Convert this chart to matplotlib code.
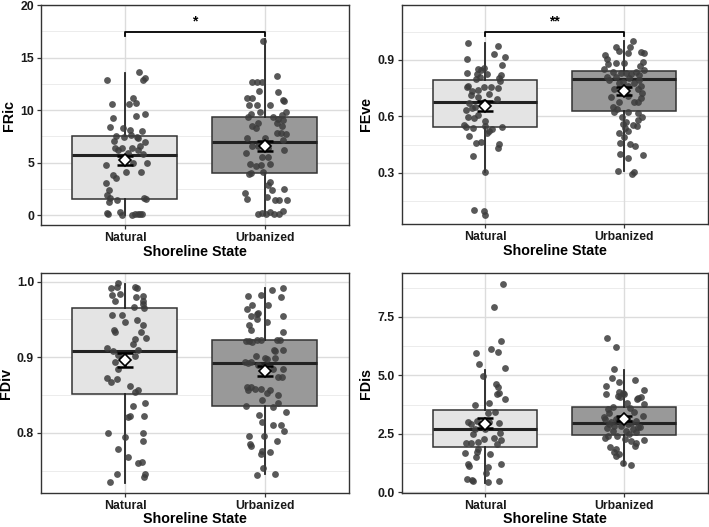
import numpy as np
import matplotlib.pyplot as plt

plt.rcParams['font.family'] = ['Liberation Sans', 'DejaVu Sans']

groups = ['Natural', 'Urbanized']
box_colors = ['#e4e4e4', '#999999']

# ---------------- FRic ----------------
fric_nat_y = [12.86, 13.59, 13.08, 12.86, 11.17, 10.70, 10.54, 10.54, 9.24, 9.43, 9.59, 8.35, 8.25, 8.13,
              8.00, 7.56, 7.40, 7.62, 7.46, 7.33, 7.02, 6.95, 6.60, 6.35, 6.35, 6.38, 6.19, 6.19, 5.94,
              5.81, 4.92, 4.79, 4.98, 4.06, 4.06, 3.81, 3.56, 3.08, 2.38, 1.90, 1.59, 1.40, 1.24, 1.59,
              1.49, 0.06, 0.22, 0.25, 0.00, 0.10, 0.06, 0.10, 0.06, 0.03]
fric_nat_dx = [-0.13, 0.10, 0.14, 0.13, 0.055, 0.077, 0.03, -0.094, -0.086, 0.077, 0.146, -0.108, -0.012,
               0.034, 0.12, -0.067, -0.005, 0.04, 0.084, 0.096, -0.077, 0.144, 0.108, -0.024, 0.048,
               -0.072, -0.048, 0.096, 0.024, 0.132, 0.156, -0.134, 0.06, 0.007, 0.115, -0.082, -0.062,
               -0.139, -0.115, -0.125, -0.108, -0.055, -0.113, 0.134, 0.149, -0.12, -0.125, -0.036,
               0.048, 0.072, 0.091, 0.108, 0.12, -0.02]
fric_urb_y = [16.57, 13.24, 12.70, 12.70, 12.70, 11.84, 11.71, 11.14, 11.14, 10.95, 10.83, 10.44, 10.51,
              10.48, 9.84, 9.62, 9.37, 9.78, 9.52, 9.30, 9.11, 9.05, 8.73, 8.48, 8.73, 8.48, 8.25, 7.84,
              7.78, 7.71, 7.30, 7.30, 7.14, 6.60, 6.57, 6.41, 6.19, 5.94, 5.56, 5.56, 4.86, 4.70, 4.76,
              4.86, 4.03, 4.06, 3.90, 3.17, 2.86, 2.38, 2.48, 2.06, 1.52, 1.68, 1.43, 1.43, 1.43, 0.06,
              0.16, 0.06, 0.32, 0.06, 0.06, 0.38]
fric_urb_dx = [-0.012, 0.084, -0.096, -0.06, -0.024, -0.041, 0.096, -0.125, -0.096, 0.127, 0.137, -0.115,
               -0.055, 0.036, -0.036, -0.10, -0.12, 0.149, 0.12, 0.055, 0.096, 0.132, -0.053, -0.096,
               0.084, 0.12, -0.065, 0.084, 0.115, 0.149, -0.127, 0.0, 0.132, -0.091, -0.048, 0.024,
               0.139, -0.137, -0.024, 0.019, -0.108, -0.065, -0.03, 0.036, -0.10, -0.012, -0.115,
               0.036, 0.024, 0.048, 0.134, -0.144, -0.125, 0.012, 0.072, 0.10, 0.156, -0.048, -0.024,
               0.005, 0.036, 0.067, 0.10, 0.132]

# ---------------- FEve ----------------
feve_nat_y = [0.988, 0.976, 0.932, 0.914, 0.904, 0.873, 0.852, 0.847, 0.856, 0.826, 0.829, 0.826, 0.820,
              0.803, 0.790, 0.797, 0.808, 0.762, 0.758, 0.755, 0.750, 0.755, 0.735, 0.741, 0.718, 0.714,
              0.705, 0.691, 0.679, 0.670, 0.652, 0.635, 0.643, 0.608, 0.596, 0.590, 0.578, 0.555, 0.542,
              0.541, 0.546, 0.550, 0.523, 0.532, 0.514, 0.496, 0.461, 0.465, 0.454, 0.431, 0.390, 0.305,
              0.104, 0.098, 0.077]
feve_nat_dx = [-0.127, 0.091, 0.067, 0.139, -0.13, 0.12, -0.048, -0.029, -0.012, -0.058, -0.132, 0.014,
               0.115, 0.096, 0.103, -0.067, -0.04, -0.12, -0.005, 0.041, 0.091, -0.132, -0.096, -0.048,
               0.024, -0.10, -0.048, 0.084, -0.012, -0.113, -0.072, -0.139, -0.096, -0.053, -0.12,
               -0.077, 0.0, -0.149, -0.139, -0.084, 0.12, 0.0, 0.024, 0.048, 0.012, -0.115, -0.065,
               -0.031, 0.096, 0.091, -0.084, 0.0, -0.082, -0.005, 0.002]
feve_urb_y = [0.999, 0.971, 0.971, 0.950, 0.935, 0.944, 0.939, 0.927, 0.904, 0.882, 0.879, 0.882, 0.891,
              0.868, 0.847, 0.850, 0.838, 0.833, 0.829, 0.826, 0.838, 0.820, 0.808, 0.808, 0.803, 0.794,
              0.794, 0.785, 0.776, 0.762, 0.776, 0.762, 0.744, 0.744, 0.723, 0.705, 0.709, 0.696, 0.679,
              0.679, 0.652, 0.675, 0.638, 0.626, 0.626, 0.617, 0.599, 0.599, 0.581, 0.573, 0.560, 0.555,
              0.550, 0.537, 0.523, 0.514, 0.489, 0.458, 0.454, 0.443, 0.401, 0.396, 0.378, 0.312, 0.293,
              0.303]
feve_urb_dx = [0.06, 0.043, -0.06, -0.036, 0.024, 0.12, 0.139, -0.139, -0.125, -0.06, -0.12, 0.0, 0.132,
               0.115, 0.139, -0.144, -0.084, -0.024, 0.012, 0.048, 0.084, 0.108, -0.125, -0.06, 0.036,
               0.108, -0.108, -0.012, 0.072, 0.12, -0.036, 0.024, -0.072, 0.096, 0.125, -0.096, 0.024,
               0.12, 0.096, -0.036, -0.084, 0.072, -0.053, -0.072, 0.024, 0.096, 0.125, -0.019, 0.096,
               0.012, -0.012, 0.06, 0.091, 0.005, 0.024, -0.036, 0.0, -0.029, 0.041, 0.077, -0.029,
               0.132, 0.024, -0.048, 0.055, 0.072]

# ---------------- FDiv ----------------
fdiv_nat_y = [0.998, 0.993, 0.991, 0.993, 0.991, 0.984, 0.982, 0.980, 0.981, 0.974, 0.974, 0.965, 0.971,
              0.966, 0.956, 0.956, 0.949, 0.946, 0.943, 0.936, 0.934, 0.934, 0.925, 0.924, 0.917, 0.912,
              0.908, 0.910, 0.903, 0.901, 0.899, 0.893, 0.884, 0.873, 0.867, 0.871, 0.862, 0.857, 0.854,
              0.836, 0.839, 0.822, 0.821, 0.822, 0.800, 0.800, 0.789, 0.795, 0.779, 0.768, 0.760, 0.761,
              0.745, 0.745, 0.741, 0.735]
fdiv_nat_dx = [-0.048, -0.06, -0.10, 0.072, 0.084, -0.036, -0.091, 0.077, 0.132, -0.072, 0.127, 0.139,
               0.132, 0.067, -0.096, -0.024, 0.084, 0.0, 0.132, -0.077, -0.072, 0.115, 0.149, 0.072,
               0.055, -0.125, -0.084, 0.096, -0.048, 0.072, -0.024, -0.072, -0.053, -0.125, -0.10,
               -0.055, 0.036, 0.096, 0.072, 0.06, 0.144, 0.036, 0.024, 0.137, -0.12, 0.132, 0.127, 0.0,
               -0.048, 0.024, 0.096, 0.125, -0.055, 0.144, 0.139, -0.108]
fdiv_urb_y = [0.989, 0.992, 0.981, 0.982, 0.979, 0.969, 0.969, 0.964, 0.957, 0.958, 0.955, 0.955, 0.950,
              0.946, 0.943, 0.936, 0.934, 0.923, 0.922, 0.920, 0.923, 0.923, 0.923, 0.921, 0.910, 0.909,
              0.908, 0.901, 0.899, 0.899, 0.893, 0.892, 0.893, 0.890, 0.897, 0.884, 0.885, 0.874, 0.874,
              0.861, 0.857, 0.860, 0.858, 0.858, 0.857, 0.853, 0.850, 0.844, 0.836, 0.840, 0.834, 0.828,
              0.824, 0.814, 0.810, 0.810, 0.803, 0.796, 0.796, 0.789, 0.785, 0.783, 0.776, 0.775, 0.772,
              0.754, 0.744, 0.746]
fdiv_urb_dx = [0.048, 0.132, -0.12, -0.031, 0.115, -0.096, 0.024, -0.125, -0.055, -0.048, -0.10, 0.132,
               -0.06, 0.012, -0.115, -0.10, 0.132, -0.06, -0.115, -0.096, -0.029, 0.084, 0.108, -0.132,
               0.067, 0.132, 0.072, -0.065, 0.0, 0.072, -0.144, -0.12, -0.10, -0.048, 0.012, 0.06,
               0.132, 0.096, 0.125, -0.125, -0.12, -0.10, -0.072, -0.029, 0.036, 0.012, 0.091, -0.024,
               -0.139, 0.096, 0.06, 0.151, -0.043, -0.024, 0.06, 0.115, 0.139, -0.115, -0.005, 0.084,
               -0.108, -0.10, -0.024, 0.036, -0.029, -0.012, -0.055, 0.072]

# ---------------- FDis ----------------
fdis_nat_y = [8.92, 7.91, 6.46, 5.97, 6.11, 6.00, 5.47, 5.33, 4.97, 4.62, 4.50, 4.26, 4.19, 3.98, 3.72,
              3.84, 3.41, 3.44, 3.01, 2.94, 3.05, 3.01, 2.98, 2.91, 2.70, 2.49, 2.53, 2.70, 2.34, 2.27,
              2.16, 2.10, 2.10, 2.06, 2.24, 1.85, 1.73, 1.49, 1.63, 1.66, 1.07, 0.82, 1.21, 1.14, 1.21,
              0.57, 0.47, 0.54, 0.45, 0.48]
fdis_nat_dx = [0.127, 0.06, 0.115, -0.067, 0.041, 0.091, -0.043, 0.144, -0.017, 0.079, 0.091, 0.096,
               0.084, 0.144, -0.072, 0.029, 0.019, 0.072, -0.125, -0.10, -0.06, 0.024, 0.096, -0.029,
               -0.072, -0.084, 0.108, 0.0, 0.06, -0.012, -0.053, -0.139, -0.10, 0.084, 0.115, -0.048,
               -0.06, -0.065, 0.036, -0.144, 0.019, 0.007, -0.12, -0.115, 0.115, -0.132, -0.089,
               -0.096, 0.019, 0.101]
fdis_urb_y = [6.61, 6.22, 5.26, 4.87, 4.73, 4.80, 4.55, 4.36, 4.19, 4.29, 4.26, 4.19, 4.08, 4.12, 4.02,
              4.08, 3.98, 3.81, 3.76, 3.66, 3.55, 3.62, 3.41, 3.44, 3.27, 3.20, 3.12, 3.12, 3.05, 2.95,
              2.91, 2.84, 2.84, 2.81, 2.73, 2.63, 2.63, 2.70, 2.56, 2.34, 2.41, 2.27, 2.24, 2.20, 2.09,
              1.99, 1.92, 1.85, 1.73, 1.63, 1.56, 1.25, 1.18, 3.00, 2.90, 2.80, 3.10, 2.50, 2.40]
fdis_urb_dx = [-0.127, -0.060, -0.072, -0.089, -0.036, 0.079, -0.132, 0.144, -0.130, -0.041, -0.012,
               0.0, -0.029, -0.048, 0.101, 0.120, 0.091, 0.017, 0.139, -0.084, -0.120, 0.041, -0.108,
               0.072, 0.132, -0.144, -0.139, -0.060, 0.084, 0.048, -0.108, -0.072, -0.024, 0.115,
               -0.127, -0.084, 0.012, 0.060, 0.084, -0.139, -0.055, 0.005, 0.144, 0.048, 0.084, 0.077,
               -0.103, -0.060, -0.072, -0.036, -0.060, -0.012, 0.048, -0.096, 0.024, 0.096, -0.048,
               0.036, -0.120]

# box statistics (q1, median, q3, whisker low, whisker high) and mean +/- SE
panels = [
    dict(name='FRic', nat=(fric_nat_dx, fric_nat_y), urb=(fric_urb_dx, fric_urb_y),
         q1=[1.52, 4.03], med=[5.68, 6.98], q3=[7.56, 9.30], wlo=[0.0, 0.0], whi=[13.56, 16.73],
         mean=[5.20, 6.60], se_lo=[4.76, 6.13], se_hi=[5.64, 7.07],
         ylim=(-0.95, 20.0), ticks=[0, 5, 10, 15, 20], labels=['0', '5', '10', '15', '20'],
         minor=[2.5, 7.5, 12.5, 17.5], sig='*', sig_y=17.4, sig_drop=0.35, star_y=17.75),
    dict(name='FEve', nat=(feve_nat_dx, feve_nat_y), urb=(feve_urb_dx, feve_urb_y),
         q1=[0.544, 0.629], med=[0.675, 0.797], q3=[0.794, 0.843], wlo=[0.305, 0.312], whi=[0.988, 0.999],
         mean=[0.656, 0.735], se_lo=[0.631, 0.714], se_hi=[0.681, 0.756],
         ylim=(0.029, 1.192), ticks=[0.3, 0.6, 0.9], labels=['0.3', '0.6', '0.9'],
         minor=[0.15, 0.45, 0.75, 1.05], sig='**', sig_y=1.047, sig_drop=0.02, star_y=1.066),
    dict(name='FDiv', nat=(fdiv_nat_dx, fdiv_nat_y), urb=(fdiv_urb_dx, fdiv_urb_y),
         q1=[0.851, 0.835], med=[0.908, 0.892], q3=[0.9645, 0.923], wlo=[0.733, 0.745], whi=[0.9965, 0.991],
         mean=[0.8965, 0.882], se_lo=[0.887, 0.875], se_hi=[0.906, 0.889],
         ylim=(0.72, 1.011), ticks=[0.8, 0.9, 1.0], labels=['0.8', '0.9', '1.0'],
         minor=[0.75, 0.85, 0.95], sig=None),
    dict(name='FDis', nat=(fdis_nat_dx, fdis_nat_y), urb=(fdis_urb_dx, fdis_urb_y),
         q1=[1.92, 2.45], med=[2.72, 2.97], q3=[3.51, 3.66], wlo=[0.40, 1.17], whi=[5.25, 5.22],
         mean=[2.94, 3.14], se_lo=[2.73, 3.03], se_hi=[3.19, 3.27],
         ylim=(-0.03, 9.37), ticks=[0, 2.5, 5, 7.5], labels=['0.0', '2.5', '5.0', '7.5'],
         minor=[1.25, 3.75, 6.25, 8.75], sig=None),
]

fig = plt.figure(figsize=(7.09, 5.27), dpi=100)
rects = [[0.0578, 0.573, 0.4344, 0.4175], [0.5666, 0.575, 0.4316, 0.4156],
         [0.0578, 0.064, 0.4344, 0.4174], [0.5666, 0.0646, 0.4316, 0.4168]]

for n, (rect, p) in enumerate(zip(rects, panels)):
    ax = fig.add_axes(rect)
    ax.set_xlim(0.4, 2.6)
    ax.set_ylim(*p['ylim'])

    # grid, theme_bw style
    for t in p['ticks']:
        ax.axhline(t, color='#dcdcdc', lw=1.0, zorder=0)
    for t in p['minor']:
        ax.axhline(t, color='#ececec', lw=0.7, zorder=0)
    for x in [1, 2]:
        ax.axvline(x, color='#dcdcdc', lw=1.0, zorder=0)

    stats = []
    for i in range(2):
        stats.append(dict(med=p['med'][i], q1=p['q1'][i], q3=p['q3'][i],
                          whislo=p['wlo'][i], whishi=p['whi'][i], fliers=[]))
    bp = ax.bxp(stats, positions=[1, 2], widths=0.75, patch_artist=True, showfliers=False,
                boxprops=dict(edgecolor='#333333', linewidth=1.1),
                medianprops=dict(color='#222222', linewidth=2.2),
                whiskerprops=dict(color='#222222', linewidth=1.3),
                capprops=dict(linewidth=0), manage_ticks=False)
    for patch, c in zip(bp['boxes'], box_colors):
        patch.set_facecolor(c)
    for k in ['boxes', 'medians', 'whiskers', 'caps']:
        for art in bp[k]:
            art.set_zorder(2)

    for i, key in enumerate(['nat', 'urb']):
        dx, y = p[key]
        ax.scatter(np.array(dx) + i + 1, y, s=24, color='#3c3c3c', alpha=0.85,
                   linewidths=0, zorder=3)

    for i in range(2):
        m = p['mean'][i]
        ax.errorbar([i + 1], [m], yerr=[[m - p['se_lo'][i]], [p['se_hi'][i] - m]],
                    fmt='none', ecolor='black', elinewidth=1.8, capsize=6, capthick=1.8, zorder=4)
        ax.plot([i + 1], [m], marker='D', markersize=6, markerfacecolor='white',
                markeredgecolor='black', markeredgewidth=1.2, zorder=5)

    if p['sig']:
        y0 = p['sig_y']
        ax.plot([1, 1, 2, 2], [y0 - p['sig_drop'], y0, y0, y0 - p['sig_drop']],
                color='black', lw=1.3, zorder=4)
        ax.text(1.5, p['star_y'], p['sig'], ha='center', va='bottom', fontsize=10,
                fontweight='bold', color='black')

    ax.set_yticks(p['ticks'])
    ax.set_yticklabels(p['labels'])
    ax.set_xticks([1, 2])
    ax.set_xticklabels(groups)
    ax.tick_params(axis='both', length=3, width=0.9, color='#333333', pad=2,
                   labelsize=8.8, labelcolor='#1a1a1a')
    for lab in ax.get_xticklabels() + ax.get_yticklabels():
        lab.set_fontweight('bold')
    for s in ax.spines.values():
        s.set_color('#333333')
        s.set_linewidth(1.0)
    ax.set_xlabel('Shoreline State', fontsize=10.3, fontweight='bold',
                  labelpad=1 if n < 2 else 0)
    ax.set_ylabel(p['name'], fontsize=10.3, fontweight='bold', labelpad=3)

fig.savefig('out.png', dpi=100)
